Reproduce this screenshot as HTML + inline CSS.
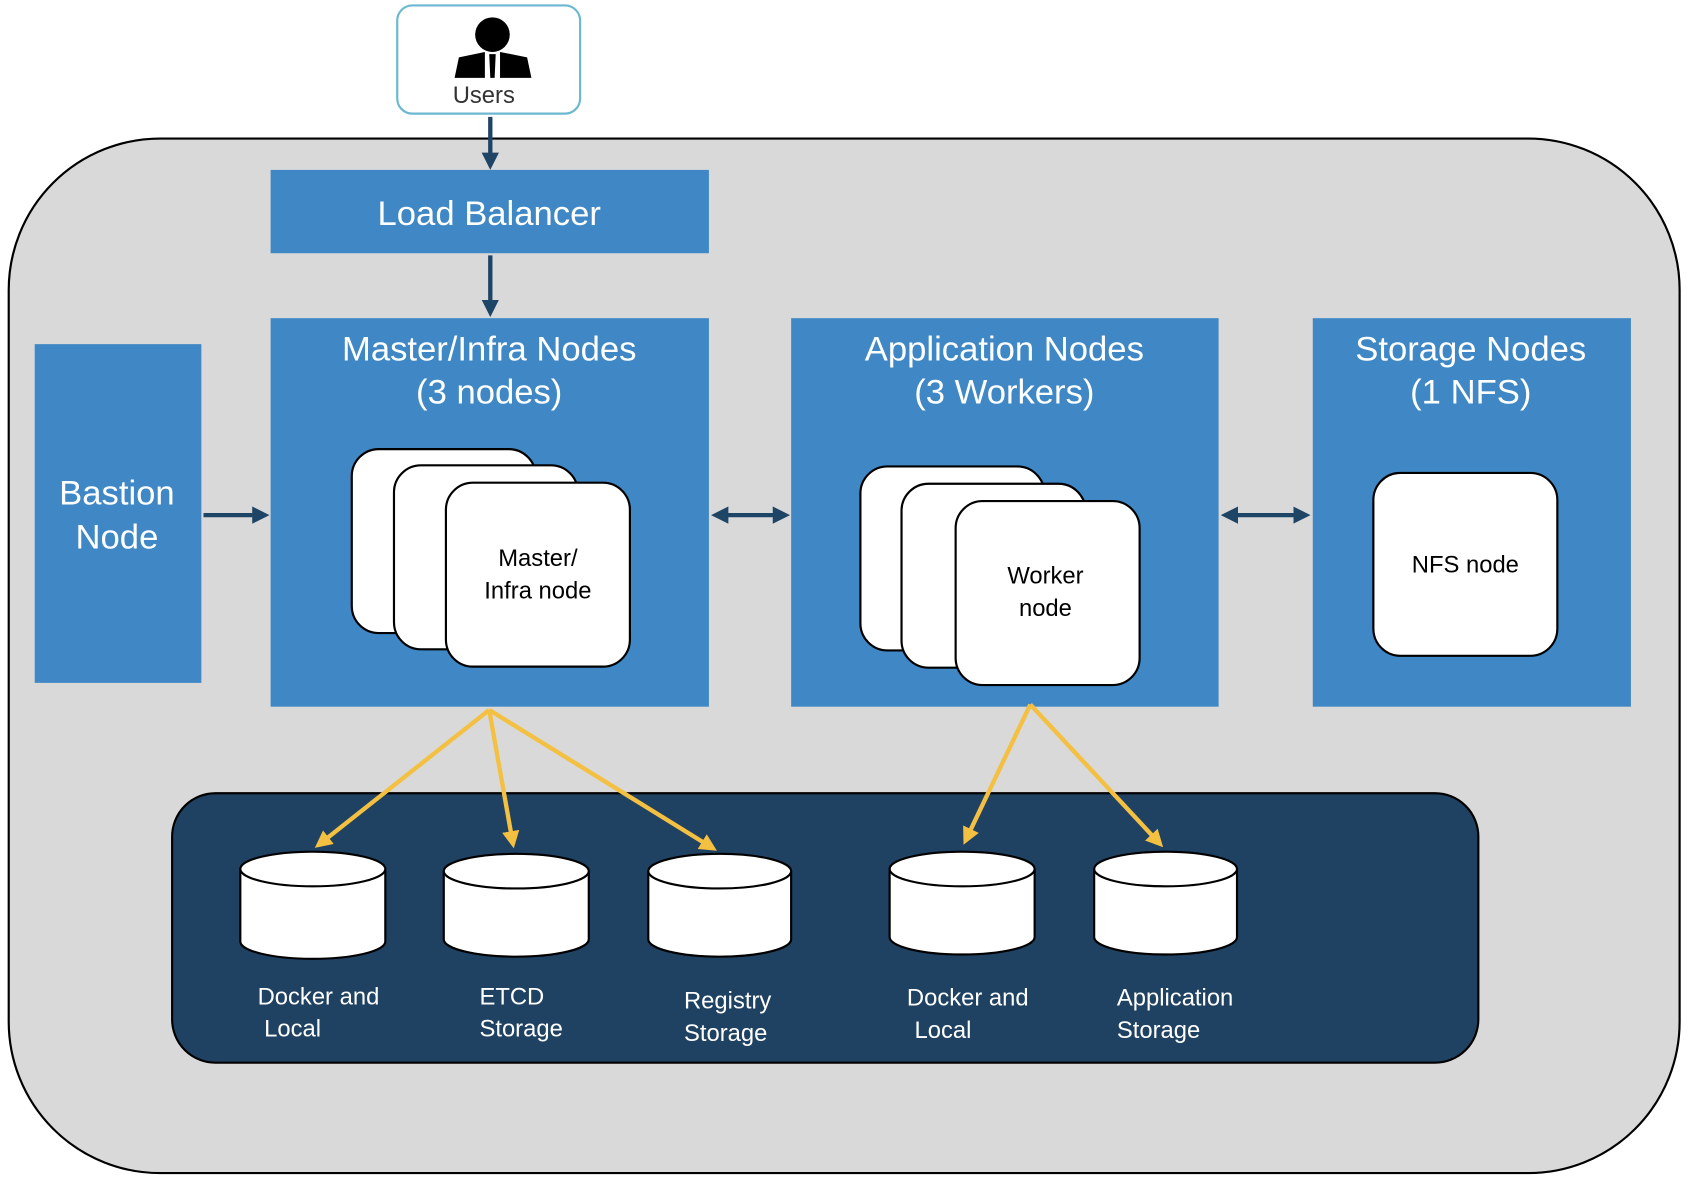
<!DOCTYPE html>
<html><head><meta charset="utf-8"><style>html,body{margin:0;padding:0;background:#fff}svg{display:block}</style></head>
<body>
<svg width="1697" height="1185" viewBox="0 0 1568 1095" xmlns="http://www.w3.org/2000/svg" font-family="Liberation Sans, Arial, sans-serif">
<defs>
<marker id="ab" markerWidth="4" markerHeight="4" refX="3" refY="2" orient="auto-start-reverse" markerUnits="strokeWidth"><path d="M0,0 L4,2 L0,4 z" fill="#1f4566"/></marker>
<marker id="ay" markerWidth="4" markerHeight="4" refX="3" refY="2" orient="auto" markerUnits="strokeWidth"><path d="M0,0 L4,2 L0,4 z" fill="#f4c042"/></marker>
</defs>
<rect x="8" y="128" width="1544" height="956" rx="140" fill="#d9d9d9" stroke="#000" stroke-width="2"/>
<!-- Users -->
<rect x="367" y="5" width="169" height="100" rx="14" fill="#fff" stroke="#6bb8d0" stroke-width="2"/>
<circle cx="455" cy="32" r="16" fill="#000"/>
<path d="M420,72 L424,53 L448,48 L448,72 Z M462,48 L487,53 L491,72 L462,72 Z" fill="#000"/>
<path d="M452,50 L458,50 L457,72 L453,72 Z" fill="#000"/>
<text x="447" y="95" font-size="22" fill="#333" text-anchor="middle">Users</text>
<line x1="453" y1="108" x2="453" y2="153" stroke="#1f4566" stroke-width="4" marker-end="url(#ab)"/>
<rect x="250" y="157" width="405" height="77" fill="#3f88c5"/>
<text x="452" y="208" font-size="32" fill="#fff" text-anchor="middle">Load Balancer</text>
<line x1="453" y1="236" x2="453" y2="289" stroke="#1f4566" stroke-width="4" marker-end="url(#ab)"/>
<!-- Bastion -->
<rect x="32" y="318" width="154" height="313" fill="#3f88c5"/>
<text x="108" y="466" font-size="32" fill="#fff" text-anchor="middle">Bastion</text>
<text x="108" y="507" font-size="32" fill="#fff" text-anchor="middle">Node</text>
<line x1="188" y1="476" x2="245" y2="476" stroke="#1f4566" stroke-width="4" marker-end="url(#ab)"/>
<!-- Master -->
<rect x="250" y="294" width="405" height="359" fill="#3f88c5"/>
<text x="452" y="333" font-size="32" fill="#fff" text-anchor="middle">Master/Infra Nodes</text>
<text x="452" y="373" font-size="32" fill="#fff" text-anchor="middle">(3 nodes)</text>
<g fill="#fff" stroke="#000" stroke-width="2">
<rect x="325" y="415" width="170" height="170" rx="25"/>
<rect x="364" y="430" width="170" height="170" rx="25"/>
<rect x="412" y="446" width="170" height="170" rx="25"/>
</g>
<text x="497" y="523" font-size="22" text-anchor="middle">Master/</text>
<text x="497" y="553" font-size="22" text-anchor="middle">Infra node</text>
<line x1="661" y1="476" x2="726" y2="476" stroke="#1f4566" stroke-width="4" marker-end="url(#ab)" marker-start="url(#ab)"/>
<!-- App -->
<rect x="731" y="294" width="395" height="359" fill="#3f88c5"/>
<text x="928" y="333" font-size="32" fill="#fff" text-anchor="middle">Application Nodes</text>
<text x="928" y="373" font-size="32" fill="#fff" text-anchor="middle">(3 Workers)</text>
<g fill="#fff" stroke="#000" stroke-width="2">
<rect x="795" y="431" width="170" height="170" rx="25"/>
<rect x="833" y="447" width="170" height="170" rx="25"/>
<rect x="883" y="463" width="170" height="170" rx="25"/>
</g>
<text x="966" y="539" font-size="22" text-anchor="middle">Worker</text>
<text x="966" y="569" font-size="22" text-anchor="middle">node</text>
<line x1="1132" y1="476" x2="1207" y2="476" stroke="#1f4566" stroke-width="4" marker-end="url(#ab)" marker-start="url(#ab)"/>
<!-- Storage -->
<rect x="1213" y="294" width="294" height="359" fill="#3f88c5"/>
<text x="1359" y="333" font-size="32" fill="#fff" text-anchor="middle">Storage Nodes</text>
<text x="1359" y="373" font-size="32" fill="#fff" text-anchor="middle">(1 NFS)</text>
<rect x="1269" y="437" width="170" height="169" rx="25" fill="#fff" stroke="#000" stroke-width="2"/>
<text x="1354" y="529" font-size="22" text-anchor="middle">NFS node</text>
<!-- storage area -->
<rect x="159" y="733" width="1207" height="249" rx="40" fill="#204262" stroke="#000" stroke-width="2"/>
<g fill="#fff" stroke="#000" stroke-width="2">
<path d="M222,803 L222,870 A67,16 0 0 0 356,870 L356,803"/><ellipse cx="289" cy="803" rx="67" ry="16"/>
<path d="M410,805 L410,868 A67,16 0 0 0 544,868 L544,805"/><ellipse cx="477" cy="805" rx="67" ry="16"/>
<path d="M599,805 L599,868 A66,16 0 0 0 731,868 L731,805"/><ellipse cx="665" cy="805" rx="66" ry="16"/>
<path d="M822,803 L822,866 A67,16 0 0 0 956,866 L956,803"/><ellipse cx="889" cy="803" rx="67" ry="16"/>
<path d="M1011,803 L1011,866 A66,16 0 0 0 1143,866 L1143,803"/><ellipse cx="1077" cy="803" rx="66" ry="16"/>
</g>
<g font-size="22" fill="#fff">
<text x="238" y="928">Docker and</text><text x="244" y="958">Local</text>
<text x="443" y="928">ETCD</text><text x="443" y="958">Storage</text>
<text x="632" y="932">Registry</text><text x="632" y="962">Storage</text>
<text x="838" y="929">Docker and</text><text x="845" y="959">Local</text>
<text x="1032" y="929">Application</text><text x="1032" y="959">Storage</text>
</g>
<g stroke="#f4c042" stroke-width="4" fill="none">
<line x1="452" y1="656" x2="294" y2="781" marker-end="url(#ay)"/>
<line x1="452" y1="656" x2="474" y2="780" marker-end="url(#ay)"/>
<line x1="452" y1="656" x2="659" y2="784" marker-end="url(#ay)"/>
<line x1="952" y1="651" x2="892" y2="777" marker-end="url(#ay)"/>
<line x1="952" y1="651" x2="1072" y2="780" marker-end="url(#ay)"/>
</g>
</svg>
</body></html>
